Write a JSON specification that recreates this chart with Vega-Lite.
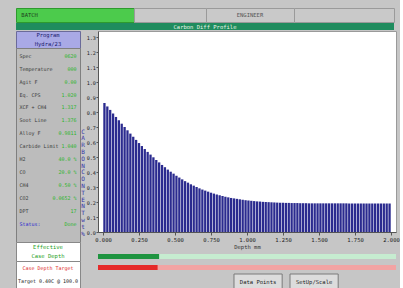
{
"$schema": "https://vega.github.io/schema/vega-lite/v6.json",
"background": "#c6c6c6",
"padding": {"left": 15, "top": 7, "right": 0, "bottom": 0},
"spacing": 0,
"config": {
  "view": {"stroke": null},
  "concat": {"spacing": 0},
  "text": {"font": "DejaVu Sans Mono"},
  "axis": {"labelFont": "DejaVu Sans Mono", "titleFont": "DejaVu Sans Mono"}
},
"datasets": {
  "profile": [
    {"depth":0.01,"carbon":0.860},{"depth":0.03,"carbon":0.837},{"depth":0.05,"carbon":0.814},{"depth":0.07,"carbon":0.790},{"depth":0.09,"carbon":0.767},
    {"depth":0.11,"carbon":0.745},{"depth":0.13,"carbon":0.722},{"depth":0.15,"carbon":0.700},{"depth":0.17,"carbon":0.678},{"depth":0.19,"carbon":0.656},
    {"depth":0.21,"carbon":0.635},{"depth":0.23,"carbon":0.614},{"depth":0.25,"carbon":0.593},{"depth":0.27,"carbon":0.573},{"depth":0.29,"carbon":0.553},
    {"depth":0.31,"carbon":0.534},{"depth":0.33,"carbon":0.516},{"depth":0.35,"carbon":0.498},{"depth":0.37,"carbon":0.480},{"depth":0.39,"carbon":0.464},
    {"depth":0.41,"carbon":0.447},{"depth":0.43,"carbon":0.432},{"depth":0.45,"carbon":0.416},{"depth":0.47,"carbon":0.402},{"depth":0.49,"carbon":0.389},
    {"depth":0.51,"carbon":0.375},{"depth":0.53,"carbon":0.363},{"depth":0.55,"carbon":0.351},{"depth":0.57,"carbon":0.339},{"depth":0.59,"carbon":0.329},
    {"depth":0.61,"carbon":0.318},{"depth":0.63,"carbon":0.309},{"depth":0.65,"carbon":0.300},{"depth":0.67,"carbon":0.291},{"depth":0.69,"carbon":0.283},
    {"depth":0.71,"carbon":0.276},{"depth":0.73,"carbon":0.269},{"depth":0.75,"carbon":0.262},{"depth":0.77,"carbon":0.256},{"depth":0.79,"carbon":0.250},
    {"depth":0.81,"carbon":0.245},{"depth":0.83,"carbon":0.240},{"depth":0.85,"carbon":0.235},{"depth":0.87,"carbon":0.231},{"depth":0.89,"carbon":0.227},
    {"depth":0.91,"carbon":0.224},{"depth":0.93,"carbon":0.221},{"depth":0.95,"carbon":0.218},{"depth":0.97,"carbon":0.215},{"depth":0.99,"carbon":0.212},
    {"depth":1.01,"carbon":0.210},{"depth":1.03,"carbon":0.208},{"depth":1.05,"carbon":0.206},{"depth":1.07,"carbon":0.204},{"depth":1.09,"carbon":0.203},
    {"depth":1.11,"carbon":0.201},{"depth":1.13,"carbon":0.200},{"depth":1.15,"carbon":0.199},{"depth":1.17,"carbon":0.198},{"depth":1.19,"carbon":0.197},
    {"depth":1.21,"carbon":0.196},{"depth":1.23,"carbon":0.195},{"depth":1.25,"carbon":0.195},{"depth":1.27,"carbon":0.194},{"depth":1.29,"carbon":0.194},
    {"depth":1.31,"carbon":0.193},{"depth":1.33,"carbon":0.193},{"depth":1.35,"carbon":0.193},{"depth":1.37,"carbon":0.192},{"depth":1.39,"carbon":0.192},
    {"depth":1.41,"carbon":0.192},{"depth":1.43,"carbon":0.191},{"depth":1.45,"carbon":0.191},{"depth":1.47,"carbon":0.191},{"depth":1.49,"carbon":0.191},
    {"depth":1.51,"carbon":0.191},{"depth":1.53,"carbon":0.191},{"depth":1.55,"carbon":0.191},{"depth":1.57,"carbon":0.191},{"depth":1.59,"carbon":0.191},
    {"depth":1.61,"carbon":0.191},{"depth":1.63,"carbon":0.191},{"depth":1.65,"carbon":0.191},{"depth":1.67,"carbon":0.191},{"depth":1.69,"carbon":0.191},
    {"depth":1.71,"carbon":0.190},{"depth":1.73,"carbon":0.190},{"depth":1.75,"carbon":0.190},{"depth":1.77,"carbon":0.190},{"depth":1.79,"carbon":0.190},
    {"depth":1.81,"carbon":0.190},{"depth":1.83,"carbon":0.190},{"depth":1.85,"carbon":0.190},{"depth":1.87,"carbon":0.190},{"depth":1.89,"carbon":0.190},
    {"depth":1.91,"carbon":0.190},{"depth":1.93,"carbon":0.190},{"depth":1.95,"carbon":0.190},{"depth":1.97,"carbon":0.190},{"depth":1.99,"carbon":0.190}
  ],
  "gauge": [
    {"item":"Effective Case Depth","depth":0.41,"max":2.0},
    {"item":"Case Depth Target","depth":0.40,"max":2.0}
  ],
  "stats": [
    {"label":"Spec","value":"0620"},
    {"label":"Temperature","value":"000"},
    {"label":"Agit F","value":"0.00"},
    {"label":"Eq. CPS","value":"1.020"},
    {"label":"XCF + CH4","value":"1.317"},
    {"label":"Soot Line","value":"1.376"},
    {"label":"Alloy F","value":"0.9811"},
    {"label":"Carbide Limit","value":"1.040"},
    {"label":"H2","value":"40.0 %"},
    {"label":"CO","value":"20.0 %"},
    {"label":"CH4","value":"0.50 %"},
    {"label":"CO2","value":"0.0652 %"},
    {"label":"DPT","value":"17"},
    {"label":"Status:","value":"Done"}
  ],
  "buttons": [{"button":"Data Points"},{"button":"SetUp/Scale"}]
},
"vconcat": [
  {"spacing": 0, "bounds": "flush", "hconcat": [
    {"width": 118, "height": 14, "view": {"fill": "#4ccb4c", "stroke": "#2e9a2e"},
     "data": {"values": [{"t":"BATCH"}]},
     "mark": {"type": "text", "fontSize": 5.5, "align": "left", "color": "#1d3d1d"},
     "encoding": {"x": {"datum": "left", "type": "nominal", "scale": {"type": "point", "domain": ["left","right"], "padding": 0.05}, "axis": null},
                  "text": {"field": "t"}}},
    {"width": 72, "height": 14, "view": {"fill": "#c9c9c9", "stroke": "#9a9a9a"},
     "data": {"values": [{"t":""}]}, "mark": {"type": "text"}, "encoding": {"text": {"field": "t"}}},
    {"width": 88, "height": 14, "view": {"fill": "#c9c9c9", "stroke": "#9a9a9a"},
     "data": {"values": [{"t":"ENGINEER"}]},
     "mark": {"type": "text", "fontSize": 5.5, "color": "#555"},
     "encoding": {"text": {"field": "t"}}},
    {"width": 100, "height": 14, "view": {"fill": "#c9c9c9", "stroke": "#9a9a9a"},
     "data": {"values": [{"t":""}]}, "mark": {"type": "text"}, "encoding": {"text": {"field": "t"}}}
  ]},
  {"width": 378, "height": 7, "view": {"fill": "#1f8c5e", "stroke": null},
   "data": {"values": [{"t":"Carbon Diff Profile"}]},
   "mark": {"type": "text", "fontSize": 5.5, "color": "#e6f5e6"},
   "encoding": {"text": {"field": "t"}}},
  {"spacing": 0, "hconcat": [
    {"spacing": 0, "bounds": "flush", "vconcat": [
      {"width": 64, "height": 17, "view": {"fill": "#a9a9e6", "stroke": "#6a6a9a"},
       "data": {"values": [{"line":"Program"},{"line":"Hydra/23"}]},
       "mark": {"type": "text", "fontSize": 5.5, "color": "#1c1c70"},
       "encoding": {"y": {"field": "line", "type": "nominal", "sort": null, "axis": null},
                    "text": {"field": "line"}}},
      {"width": 64, "height": 194, "view": {"fill": "#bcbcbc", "stroke": "#7f7f7f"},
       "data": {"name": "stats"},
       "encoding": {"y": {"field": "label", "type": "nominal", "sort": null, "axis": null,
                          "scale": {"type": "point", "padding": 1.53, "align": 0.3}}},
       "layer": [
         {"mark": {"type": "text", "fontSize": 5, "align": "left"},
          "encoding": {"x": {"datum": "name", "type": "nominal", "scale": {"type": "point", "domain": ["name","value"], "padding": 0.06}, "axis": null},
                       "text": {"field": "label"},
                       "color": {"condition": {"test": "datum.label === 'Status:'", "value": "#2626d0"}, "value": "#3a3a3a"}}},
         {"mark": {"type": "text", "fontSize": 5, "align": "right", "color": "#2bb52b"},
          "encoding": {"x": {"datum": "value", "type": "nominal", "axis": null},
                       "text": {"field": "value"}}}
       ]},
      {"width": 64, "height": 19, "view": {"fill": "#ffffff", "stroke": "#888"},
       "data": {"values": [{"line":"Effective"},{"line":"Case Depth"}]},
       "mark": {"type": "text", "fontSize": 5.5, "color": "#22a022"},
       "encoding": {"y": {"field": "line", "type": "nominal", "sort": null, "axis": null},
                    "text": {"field": "line"}}},
      {"width": 64, "height": 27, "view": {"fill": "#ffffff", "stroke": "#888"},
       "data": {"values": [{"line":"Case Depth Target"},{"line":"Target 0.40C @ 100.0"}]},
       "mark": {"type": "text", "fontSize": 5},
       "encoding": {"y": {"field": "line", "type": "nominal", "sort": null, "axis": null},
                    "text": {"field": "line"},
                    "color": {"condition": {"test": "datum.line === 'Case Depth Target'", "value": "#e02828"}, "value": "#222222"}}}
    ]},
    {"width": 2, "height": 201,
     "data": {"values": [{"t":"C\nA\nR\nB\nO\nN\n \nC\nO\nN\nT\nE\nN\nT\n \nw\nt\n%"}]},
     "mark": {"type": "text", "lineBreak": "\n", "fontSize": 6, "lineHeight": 6.8, "baseline": "middle", "color": "#3434a8"},
     "encoding": {"text": {"field": "t"}}},
    {"spacing": 0, "vconcat": [
      {"width": 298, "height": 201, "view": {"fill": "#ffffff", "stroke": "#9a9a9a"},
       "data": {"name": "profile"},
       "mark": {"type": "bar", "size": 2.3, "color": "#2b2b8f"},
       "encoding": {
         "x": {"field": "depth", "type": "quantitative",
               "scale": {"domain": [0, 2], "nice": false, "zero": false},
               "axis": {"values": [0,0.25,0.5,0.75,1,1.25,1.5,1.75,2], "format": ".3f", "title": "Depth mm",
                        "labelFontSize": 5.5, "titleFontSize": 5.5, "titleFontWeight": "normal", "labelFlush": false, "labelOverlap": false,
                        "tickSize": 3, "labelPadding": 2, "titlePadding": 2, "grid": false,
                        "domainColor": "#555", "tickColor": "#555", "labelColor": "#222", "titleColor": "#333"}},
         "y": {"field": "carbon", "type": "quantitative",
               "scale": {"domain": [0, 1.34], "nice": false},
               "axis": {"values": [0,0.1,0.2,0.3,0.4,0.5,0.6,0.7,0.8,0.9,1.0,1.1,1.2,1.3], "format": ".1f", "title": null,
                        "labelFontSize": 5.2, "tickSize": 2, "labelPadding": 0.5, "grid": false, "labelOverlap": false,
                        "domainColor": "#555", "tickColor": "#555", "labelColor": "#222"}}
       }},
      {"width": 298, "height": 22,
       "data": {"name": "gauge"},
       "encoding": {"y": {"field": "item", "type": "nominal", "sort": null, "axis": null}},
       "resolve": {"scale": {"color": "independent"}},
       "layer": [
         {"mark": {"type": "bar", "size": 5},
          "encoding": {"x": {"field": "max", "type": "quantitative", "scale": {"domain": [0, 2], "nice": false}, "axis": null},
                       "color": {"field": "item", "type": "nominal", "legend": null,
                                 "scale": {"domain": ["Effective Case Depth","Case Depth Target"], "range": ["#c6ecd0","#f2a3a3"]}}}},
         {"mark": {"type": "bar", "size": 5},
          "encoding": {"x": {"field": "depth", "type": "quantitative"},
                       "color": {"field": "item", "type": "nominal", "legend": null,
                                 "scale": {"domain": ["Effective Case Depth","Case Depth Target"], "range": ["#1f9440","#e52a2a"]}}}}
       ]},
      {"width": 298, "height": 16,
       "data": {"name": "buttons"},
       "encoding": {"x": {"field": "button", "type": "nominal", "axis": null,
                          "scale": {"domain": [" ", "  ", "Data Points", "SetUp/Scale", "   "], "paddingInner": 0.14, "paddingOuter": 0.23, "align": 0.93}}},
       "layer": [
         {"mark": {"type": "bar", "fill": "#dcdcdc", "stroke": "#7a7a7a", "strokeWidth": 1}},
         {"mark": {"type": "text", "fontSize": 5.5, "color": "#222"}, "encoding": {"text": {"field": "button"}}}
       ]}
    ]}
  ]}
]
}
